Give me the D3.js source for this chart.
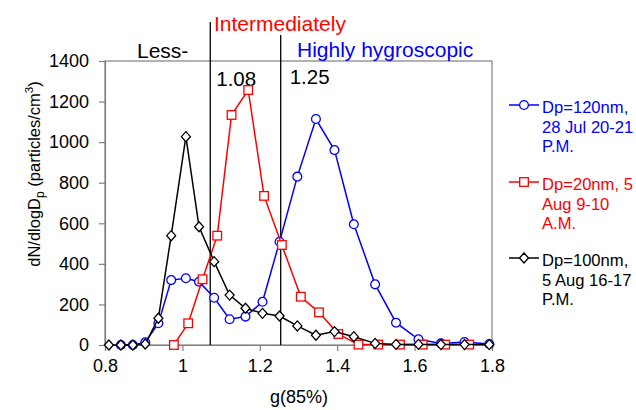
<!DOCTYPE html>
<html><head><meta charset="utf-8">
<script src="https://cdn.jsdelivr.net/npm/d3@7"></script>
<style>
body{margin:0;background:#fff;}
text{font-family:"Liberation Sans",Arial,sans-serif;}
</style></head>
<body><svg id="c" width="636" height="410"></svg>
<script>
// ---- data ----
const blueG   = [0.841,0.872,0.904,0.938,0.971,1.009,1.043,1.082,1.122,1.163,1.207,1.251,1.297,1.345,1.393,1.443,1.498,1.552,1.610,1.668,1.729,1.793];
const blueN   = [0,0,13,107,320,329,312,233,127,140,213,509,830,1114,961,595,299,110,28,8,15,5];
const redG    = [0.978,1.015,1.052,1.090,1.127,1.170,1.211,1.257,1.306,1.353,1.403,1.455,1.506,1.562,1.621,1.679,1.741];
const redN    = [0,107,324,539,1134,1257,735,493,238,161,54,2,2,2,2,2,2];
const blackG  = [0.810,0.841,0.872,0.904,0.938,0.971,1.009,1.043,1.082,1.122,1.163,1.207,1.251,1.297,1.345,1.393,1.443,1.498,1.552,1.610,1.668,1.729,1.793];
const blackN  = [0,0,0,5,132,539,1027,583,411,246,181,156,143,94,48,66,41,8,3,3,2,2,2];
const xTicks  = [0.8,1,1.2,1.4,1.6,1.8];
const yTicks  = [0,200,400,600,800,1000,1200,1400];
const cutoffs = [1.072,1.254];
const cutoffLabels = ["1.08","1.25"];
const legendLabels = [
  ["Dp=120nm,","28 Jul 20-21","P.M."],
  ["Dp=20nm, 5","Aug 9-10","A.M."],
  ["Dp=100nm,","5 Aug 16-17","P.M."]
];

const svg = d3.select("#c");
const L=105,R=492,T=61,B=345;
const x = d3.scaleLinear().domain([0.8,1.8]).range([L,R]);
const y = d3.scaleLinear().domain([0,1400]).range([B,T]);

// frame
svg.append("rect").attr("x",L).attr("y",T).attr("width",R-L).attr("height",B-T)
  .attr("fill","none").attr("stroke","#808080").attr("stroke-width",1.2);

const gx = svg.append("g").attr("transform",`translate(0,${B})`)
  .call(d3.axisBottom(x).tickValues(xTicks).tickSize(6).tickPadding(8).tickFormat(d3.format("")));
const gy = svg.append("g").attr("transform",`translate(${L},0)`)
  .call(d3.axisLeft(y).tickValues(yTicks).tickSize(6).tickPadding(10).tickFormat(d3.format("d")));
[gx,gy].forEach(g=>{
  g.select(".domain").attr("stroke","#808080").attr("stroke-width",1.2);
  g.selectAll(".tick line").attr("stroke","#808080").attr("stroke-width",1.2);
  g.selectAll(".tick text").attr("font-size",18).attr("fill","#000")
   .attr("font-family","'Liberation Sans',Arial,sans-serif");
});

// cutoff lines
const tops=[22,35], offs=[6,9], labY=[86,84];
cutoffs.forEach((c,i)=>{
  svg.append("line").attr("x1",x(c)).attr("x2",x(c)).attr("y1",tops[i]).attr("y2",B)
    .attr("stroke","#000").attr("stroke-width",1.3);
  svg.append("text").attr("x",x(c)+offs[i]).attr("y",labY[i]).attr("font-size",20.5).text(cutoffLabels[i]);
});

svg.append("text").attr("x",214).attr("y",31).attr("font-size",21).attr("fill","#ff0000").text("Intermediately");
svg.append("text").attr("x",137).attr("y",58).attr("font-size",21).attr("fill","#000").text("Less-");
svg.append("text").attr("x",297).attr("y",57).attr("font-size",21).attr("fill","#0000ff").text("Highly hygroscopic");

// axis labels
svg.append("text").attr("x",299).attr("y",403).attr("text-anchor","middle").attr("font-size",18).text("g(85%)");
const yl = svg.append("text").attr("transform","translate(40,174) rotate(-90)").attr("text-anchor","middle").attr("font-size",16.5);
yl.append("tspan").text("dN/dlogD");
yl.append("tspan").attr("font-size",12).attr("dy",4).text("p");
yl.append("tspan").attr("dy",-4).text(" (particles/cm");
yl.append("tspan").attr("font-size",11.5).attr("dy",-7).text("3");
yl.append("tspan").attr("dy",7).text(")");

// series
const series = [
  {g:blueG,n:blueN,color:"#0000ff",shape:"circle"},
  {g:redG,n:redN,color:"#ff0000",shape:"square"},
  {g:blackG,n:blackN,color:"#000000",shape:"diamond"}
];
function marker(sel,shape,color){
  if(shape==="circle") sel.append("circle").attr("r",4.4);
  else if(shape==="square") sel.append("rect").attr("x",-4.3).attr("y",-4.3).attr("width",8.6).attr("height",8.6);
  else sel.append("path").attr("d","M0,-5L4.5,0L0,5L-4.5,0Z");
  sel.selectAll("*").attr("fill","#fff").attr("stroke",color).attr("stroke-width",1.3);
}
const line = d3.line().x(d=>x(d[0])).y(d=>y(d[1]));
series.forEach(s=>{
  const pts = s.g.map((g,i)=>[g,s.n[i]]);
  svg.append("path").datum(pts).attr("d",line).attr("fill","none").attr("stroke",s.color).attr("stroke-width",1.5);
  pts.forEach(p=>{
    const m = svg.append("g").attr("transform",`translate(${x(p[0])},${y(p[1])})`);
    marker(m,s.shape,s.color);
  });
});

// legend
const legY=[105,182,258];
series.forEach((s,i)=>{
  svg.append("line").attr("x1",509).attr("x2",539).attr("y1",legY[i]).attr("y2",legY[i]).attr("stroke",s.color).attr("stroke-width",1.5);
  const m = svg.append("g").attr("transform",`translate(524,${legY[i]})`);
  marker(m,s.shape,s.color);
  legendLabels[i].forEach((t,j)=>{
    svg.append("text").attr("x",542).attr("y",legY[i]+8+j*19.6).attr("font-size",16.6).attr("fill",s.color).text(t);
  });
});
</script></body></html>
